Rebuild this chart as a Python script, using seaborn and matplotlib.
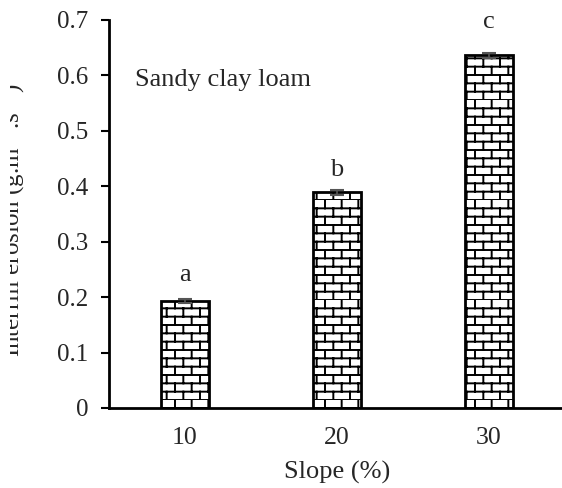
import numpy as np
import matplotlib
matplotlib.use("Agg")
import matplotlib.pyplot as plt
import matplotlib.hatch as mhatch
from matplotlib.path import Path
from matplotlib.transforms import Bbox
import seaborn as sns

# ---- data ----
slopes = ["10", "20", "30"]
erosion = [0.193, 0.389, 0.636]
errors = [0.003, 0.004, 0.005]
letters = ["a", "b", "c"]
letter_y = [0.240, 0.429, 0.697]
soil_label = "Sandy clay loam"


# ---- custom brick hatch (replaces '-') ----
class BrickHatch(mhatch.HatchPatternBase):
    rows = 12
    cols = 6

    def __init__(self, hatch, density):
        self.active = hatch.count('-') > 0
        if self.active:
            self.num_vertices = self.rows * 2 + self.rows * (self.cols + 1) * 2
        else:
            self.num_vertices = 0

    def set_vertices_and_codes(self, vertices, codes):
        k = 0
        N, M = self.rows, self.cols
        for i in range(N):
            y0 = i / N
            y1 = (i + 1) / N
            vertices[k] = (0.0, y0); codes[k] = Path.MOVETO; k += 1
            vertices[k] = (1.0, y0); codes[k] = Path.LINETO; k += 1
            off = 0.5 if i % 2 else 0.0
            for j in range(M + 1):
                x = (j + off) / M
                vertices[k] = (x, y0); codes[k] = Path.MOVETO; k += 1
                vertices[k] = (x, y1); codes[k] = Path.LINETO; k += 1


mhatch._hatch_types[:] = [BrickHatch if t is mhatch.HorizontalHatch else t
                          for t in mhatch._hatch_types]

sns.set_style("white")
plt.rcParams['font.family'] = ['Liberation Serif', 'DejaVu Serif']
plt.rcParams['mathtext.fontset'] = 'custom'
plt.rcParams['mathtext.rm'] = 'Liberation Serif'
plt.rcParams['hatch.linewidth'] = 1.4
plt.rcParams['hatch.color'] = 'black'

fig = plt.figure(figsize=(5.62, 4.88), dpi=100)
ax = fig.add_axes([109 / 562, 1 - 408 / 488, (565 - 109) / 562, (408 - 20) / 488])

sns.barplot(x=slopes, y=erosion, order=slopes, color='white', edgecolor='black',
            linewidth=2.0, width=0.32, hatch='-', errorbar=None, ax=ax)
for p in ax.patches:
    p.set_facecolor('white')
    p.set_hatch('-')

ax.errorbar(range(len(slopes)), erosion, yerr=errors, fmt='none', ecolor='#555555',
            elinewidth=1.2, capsize=5, capthick=1.5, zorder=5)

for i, (t, yy) in enumerate(zip(letters, letter_y)):
    ax.text(i, yy, t, ha='center', va='center', fontsize=19, clip_on=False)

ax.text(-0.33, 0.592, soil_label, ha='left', va='center', fontsize=19)

ax.set_ylim(0, 0.7)
ax.set_xlim(-0.5, 2.5)
ax.set_yticks(np.arange(0, 0.71, 0.1))
ax.set_yticklabels(['0' if v == 0 else f"{v:.1f}" for v in np.arange(0, 0.71, 0.1)])

ax.set_xticks([-0.5, 0.5, 1.5, 2.5])
ax.set_xticklabels([])
ax.set_xticks(range(len(slopes)), minor=True)
ax.set_xticklabels(slopes, minor=True)
ax.tick_params(axis='x', which='major', direction='out', length=6, width=1.8, color='black')
ax.tick_params(axis='x', which='minor', length=0, labelsize=18.5, pad=14)
ax.tick_params(axis='y', direction='out', length=6, width=1.5, color='black',
               labelsize=18, pad=9, left=True)

for s in ['top', 'right']:
    ax.spines[s].set_visible(False)
for s in ['left', 'bottom']:
    ax.spines[s].set_color('black')
    ax.spines[s].set_linewidth(2.0)

ax.set_xlabel("Slope (%)", fontsize=19, labelpad=8)
ax.set_ylabel("")

yl = fig.text(27 / 562, 1 - 220 / 488, r"Interrill erosion (g.m$^{-2}$.s$^{-1}$)",
              rotation=90, ha='right', va='center', fontsize=18)
clip = Bbox.from_extents(10, 0, 562, 488)
yl.set_clip_box(clip)
yl.set_clip_on(True)

fig.savefig("out.png", dpi=100)
